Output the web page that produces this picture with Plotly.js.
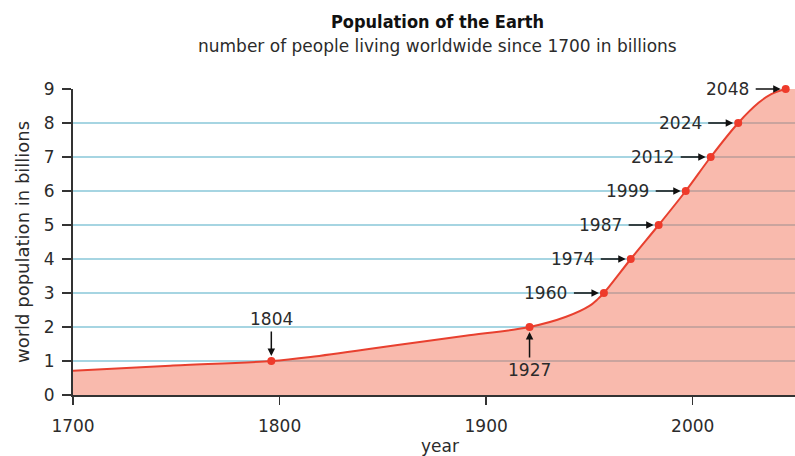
<!DOCTYPE html>
<html>
<head>
<meta charset="utf-8">
<script src="https://cdn.plot.ly/plotly-3.0.1.min.js"></script>
<style>html,body{margin:0;padding:0;background:#fff;}#chart{width:795px;height:456px;}</style>
</head>
<body>
<div id="chart"></div>
<script>
// Curve of world population (year, billions)
const curveYears  = [1700, 1747, 1796, 1815, 1858, 1890, 1921, 1938.7, 1950, 1954, 1957, 1970, 1983.5, 1996.6, 2008.7, 2022, 2032, 2038, 2045, 2049.5];
const curveValues = [0.71, 0.86, 1.0, 1.12, 1.48, 1.74, 2.0, 2.3, 2.62, 2.82, 3.0, 4.0, 5.0, 6.0, 7.0, 8.0, 8.6, 8.85, 9.0, 9.05];

// Milestone markers (position on the time axis as drawn, population, label)
const milestoneX      = [1796, 1921, 1957, 1970, 1983.5, 1996.6, 2008.7, 2022, 2045];
const milestoneValues = [1, 2, 3, 4, 5, 6, 7, 8, 9];
const milestoneLabels = ['1804', '1927', '1960', '1974', '1987', '1999', '2012', '2024', '2048'];

const xTicks = [1700, 1800, 1900, 2000];
const yTicks = [0, 1, 2, 3, 4, 5, 6, 7, 8, 9];

const FONT = 'DejaVu Sans, sans-serif';
const TXT = '#2b2b2b';

const traces = [
  {
    x: curveYears, y: curveValues, type: 'scatter', mode: 'lines',
    line: {color: '#e8402f', width: 2, shape: 'spline', smoothing: 0.9},
    fill: 'tozeroy', fillcolor: 'rgba(242,108,80,0.47)',
    hoverinfo: 'skip'
  },
  {
    x: milestoneX, y: milestoneValues, type: 'scatter', mode: 'markers',
    marker: {color: '#ee3b2b', size: 8},
    cliponaxis: false
  }
];

const annotations = [];
milestoneLabels.forEach((lab, i) => {
  let ax = -58, ay = 0;
  if (i === 0) { ax = 0; ay = -42; }
  else if (i === 1) { ax = 0; ay = 43; }
  annotations.push({
    x: milestoneX[i], y: milestoneValues[i], xref: 'x', yref: 'y',
    text: lab, showarrow: true, ax: ax, ay: ay,
    arrowhead: 2, arrowsize: 1, arrowwidth: 1.5, arrowcolor: '#111',
    standoff: 5, borderpad: i < 2 ? 2 : 6,
    font: {family: FONT, size: 17, color: TXT}
  });
});

annotations.push(
  {xref: 'paper', yref: 'paper', x: 0.505, y: 1.222, xanchor: 'center', yanchor: 'middle',
   text: '<b>Population of the Earth</b>', showarrow: false,
   font: {family: 'DejaVu Sans Condensed, DejaVu Sans, sans-serif', size: 18, color: '#111'}},
  {xref: 'paper', yref: 'paper', x: 0.505, y: 1.1405, xanchor: 'center', yanchor: 'middle',
   text: 'number of people living worldwide since 1700 in billions', showarrow: false,
   font: {family: FONT, size: 17, color: TXT}},
  {xref: 'paper', yref: 'paper', x: -0.0706, y: 0.5, xanchor: 'center', yanchor: 'middle',
   text: 'world population in billions', textangle: -90, showarrow: false,
   font: {family: FONT, size: 18, color: TXT}},
  {xref: 'paper', yref: 'paper', x: 0.508, y: -0.167, xanchor: 'center', yanchor: 'middle',
   text: 'year', showarrow: false,
   font: {family: FONT, size: 17, color: TXT}}
);

const layout = {
  width: 795, height: 456,
  margin: {l: 73, r: 0, t: 89, b: 61, pad: 0},
  paper_bgcolor: '#fff', plot_bgcolor: '#fff',
  showlegend: false,
  xaxis: {
    range: [1700, 2049.5], tickvals: xTicks, ticktext: xTicks.map(String),
    ticks: 'outside', ticklen: 8, tickwidth: 1.5, tickcolor: '#333',
    showline: true, linecolor: '#333', linewidth: 2,
    showgrid: false, zeroline: false,
    tickfont: {family: FONT, size: 17, color: TXT}, ticklabelstandoff: 7
  },
  yaxis: {
    range: [0, 9], tickvals: yTicks, ticktext: yTicks.map(String),
    ticks: 'outside', ticklen: 9, tickwidth: 1.5, tickcolor: '#333',
    showline: true, linecolor: '#333', linewidth: 2,
    showgrid: true, gridcolor: '#a6d5e2', gridwidth: 1.2, zeroline: false,
    tickfont: {family: FONT, size: 17, color: TXT}, ticklabelstandoff: 4
  },
  annotations: annotations
};

Plotly.newPlot('chart', traces, layout, {staticPlot: true, displayModeBar: false});
</script>
</body>
</html>
